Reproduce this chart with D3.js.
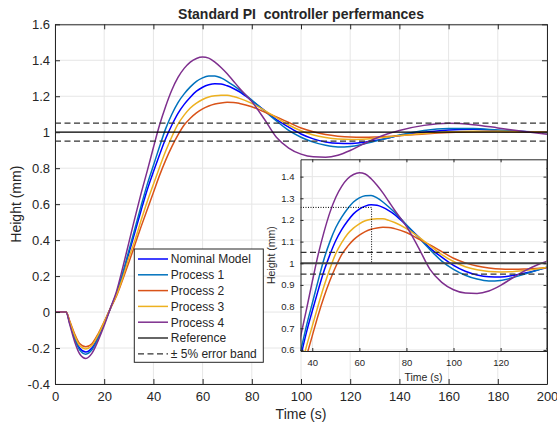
<!DOCTYPE html>
<html>
<head>
<meta charset="utf-8">
<script src="https://cdn.jsdelivr.net/npm/d3@7"></script>
<style>
  body { margin: 0; background: #fff; }
  text { font-family: "Liberation Sans", Arial, Helvetica, sans-serif; fill: #262626; }
</style>
</head>
<body>
<script>

// ---------- data ----------
var time = [0, 4.5, 6, 8, 10, 12.5, 15, 17.5, 20, 22.5,
            25, 27.5, 30, 32.5, 35, 37.5, 40, 42.5, 45, 47.5,
            50, 52.5, 55, 57.5, 60, 62.5, 65, 67.5, 70, 72.5,
            75, 80, 85, 90, 95, 100, 105, 110, 115, 120,
            125, 130, 135, 140, 150, 160, 170, 180, 190, 200];

var nominalModel = [0, 0, -0.058, -0.142, -0.2, -0.222, -0.2, -0.138, -0.062, 0.02,
                    0.1, 0.205, 0.325, 0.445, 0.565, 0.68, 0.78, 0.875, 0.965, 1.04,
                    1.105, 1.155, 1.195, 1.228, 1.25, 1.264, 1.27, 1.268, 1.258, 1.243,
                    1.225, 1.175, 1.123, 1.07, 1.028, 0.99, 0.963, 0.946, 0.938, 0.937,
                    0.943, 0.954, 0.967, 0.981, 1.0, 1.012, 1.016, 1.01, 1.004, 1.0];

var process1 = [0, 0, -0.062, -0.15, -0.21, -0.234, -0.21, -0.145, -0.065, 0.02,
                0.105, 0.215, 0.34, 0.465, 0.59, 0.71, 0.815, 0.92, 1.02, 1.1,
                1.165, 1.213, 1.252, 1.283, 1.302, 1.312, 1.313, 1.302, 1.283, 1.26,
                1.235, 1.178, 1.12, 1.063, 1.01, 0.972, 0.945, 0.927, 0.918, 0.921,
                0.933, 0.949, 0.966, 0.984, 1.01, 1.02, 1.02, 1.012, 1.004, 0.999];

var process2 = [0, 0, -0.05, -0.122, -0.175, -0.193, -0.176, -0.122, -0.053, 0.02,
                0.09, 0.18, 0.275, 0.375, 0.475, 0.57, 0.665, 0.76, 0.845, 0.92,
                0.985, 1.04, 1.078, 1.108, 1.13, 1.146, 1.157, 1.163, 1.166, 1.165,
                1.16, 1.142, 1.113, 1.085, 1.054, 1.023, 1.002, 0.987, 0.978, 0.973,
                0.972, 0.973, 0.976, 0.98, 0.99, 0.998, 1.003, 1.004, 1.002, 1.0];

var process3 = [0, 0, -0.054, -0.13, -0.186, -0.205, -0.186, -0.128, -0.057, 0.02,
                0.095, 0.19, 0.3, 0.4, 0.51, 0.615, 0.71, 0.805, 0.895, 0.975,
                1.045, 1.095, 1.135, 1.162, 1.182, 1.196, 1.203, 1.206, 1.205, 1.198,
                1.188, 1.16, 1.123, 1.081, 1.04, 1.008, 0.984, 0.97, 0.962, 0.96,
                0.961, 0.966, 0.973, 0.981, 0.993, 1.002, 1.006, 1.005, 1.002, 1.0];

var process4 = [0, 0, -0.07, -0.165, -0.232, -0.258, -0.23, -0.16, -0.075, 0.02,
                0.115, 0.245, 0.385, 0.525, 0.66, 0.785, 0.915, 1.04, 1.145, 1.235,
                1.305, 1.355, 1.39, 1.41, 1.418, 1.412, 1.39, 1.36, 1.325, 1.285,
                1.245, 1.17, 1.075, 0.972, 0.912, 0.878, 0.863, 0.861, 0.872, 0.898,
                0.932, 0.964, 0.99, 1.01, 1.038, 1.05, 1.042, 1.024, 1.005, 0.988];

var seriesNames = ["Nominal Model", "Process 1", "Process 2", "Process 3", "Process 4"];
var seriesValues = [nominalModel, process1, process2, process3, process4];

var referenceHeight = 1;
var errorBand = 0.05;

// overshoot marker shown in the zoomed view
var peakTime = 65.2;
var peakHeight = 1.258;

var mainXTicks = [0, 20, 40, 60, 80, 100, 120, 140, 160, 180, 200];
var mainYTicks = [-0.4, -0.2, 0, 0.2, 0.4, 0.6, 0.8, 1, 1.2, 1.4, 1.6];
var zoomXTicks = [40, 60, 80, 100, 120];
var zoomYTicks = [0.6, 0.7, 0.8, 0.9, 1, 1.1, 1.2, 1.3, 1.4];

var legendLabels = ["Nominal Model", "Process 1", "Process 2", "Process 3", "Process 4",
                    "Reference", "\u00b1 5% error band"];

// ---------- settings ----------
var colors = ["#0000ff", "#0072bd", "#d95319", "#edb120", "#7e2f8e"];
var axisColor = "#262626";
var gridColor = "#e6e6e6";

var mainPlot = { left: 55, right: 547, top: 24.3, bottom: 384,
                 xDomain: [0, 200], yDomain: [-0.4, 1.6],
                 tick: 5, fontSize: 13, labelSize: 14 };
var zoomPlot = { left: 300.5, right: 546.5, top: 159.3, bottom: 351,
                 xDomain: [35, 139.5], yDomain: [0.595, 1.48],
                 tick: 3, fontSize: 9.5, labelSize: 10.5 };

var svg = d3.select("body").append("svg")
  .attr("width", 557)
  .attr("height", 425);

svg.append("rect").attr("width", 557).attr("height", 425).attr("fill", "#fff");

function makeScales(p) {
  p.x = d3.scaleLinear().domain(p.xDomain).range([p.left, p.right]);
  p.y = d3.scaleLinear().domain(p.yDomain).range([p.bottom, p.top]);
}

function drawFrame(g, p, xTicks, yTicks) {
  // background + grid
  g.append("rect")
    .attr("x", p.left).attr("y", p.top)
    .attr("width", p.right - p.left).attr("height", p.bottom - p.top)
    .attr("fill", "#fff");

  g.append("g").selectAll("line").data(xTicks).join("line")
    .attr("x1", d => p.x(d)).attr("x2", d => p.x(d))
    .attr("y1", p.top).attr("y2", p.bottom)
    .attr("stroke", gridColor).attr("stroke-width", 1);

  g.append("g").selectAll("line").data(yTicks).join("line")
    .attr("x1", p.left).attr("x2", p.right)
    .attr("y1", d => p.y(d)).attr("y2", d => p.y(d))
    .attr("stroke", gridColor).attr("stroke-width", 1);
}

function drawAxes(g, p, xTicks, yTicks, xPad, yPad) {
  var bottom = g.append("g")
    .attr("transform", "translate(0," + p.bottom + ")")
    .call(d3.axisBottom(p.x).tickValues(xTicks).tickSizeInner(-p.tick).tickSizeOuter(0)
      .tickPadding(xPad).tickFormat(d3.format("")));
  var left = g.append("g")
    .attr("transform", "translate(" + p.left + ",0)")
    .call(d3.axisLeft(p.y).tickValues(yTicks).tickSizeInner(-p.tick).tickSizeOuter(0)
      .tickPadding(yPad).tickFormat(d => String(+d.toFixed(2))));
  var top = g.append("g")
    .attr("transform", "translate(0," + p.top + ")")
    .call(d3.axisTop(p.x).tickValues(xTicks).tickSizeInner(-p.tick).tickSizeOuter(0).tickFormat(""));
  var right = g.append("g")
    .attr("transform", "translate(" + p.right + ",0)")
    .call(d3.axisRight(p.y).tickValues(yTicks).tickSizeInner(-p.tick).tickSizeOuter(0).tickFormat(""));

  [bottom, left, top, right].forEach(function (a) {
    a.selectAll("path, line").attr("stroke", axisColor).attr("stroke-width", 1);
    a.selectAll("text").attr("fill", axisColor)
      .style("font-size", p.fontSize + "px")
      .style("font-family", '"Liberation Sans", Arial, sans-serif');
  });
}

function drawCurves(g, p, clipId) {
  g.append("clipPath").attr("id", clipId).append("rect")
    .attr("x", p.left).attr("y", p.top)
    .attr("width", p.right - p.left).attr("height", p.bottom - p.top);

  var cg = g.append("g").attr("clip-path", "url(#" + clipId + ")");

  var line = d3.line()
    .x((d, i) => p.x(time[i]))
    .y(d => p.y(d))
    .curve(d3.curveMonotoneX);

  cg.selectAll("path.curve").data(seriesValues).join("path")
    .attr("class", "curve")
    .attr("d", d => line(d))
    .attr("fill", "none")
    .attr("stroke", (d, i) => colors[i])
    .attr("stroke-width", 1.5);

  return cg;
}

function drawReference(cg, p, refWidth, refColor) {
  [referenceHeight + errorBand, referenceHeight - errorBand].forEach(function (v) {
    cg.append("line")
      .attr("x1", p.left).attr("x2", p.right)
      .attr("y1", p.y(v)).attr("y2", p.y(v))
      .attr("stroke", "#333").attr("stroke-width", 1.2)
      .attr("stroke-dasharray", "6,3.5");
  });
  cg.append("line")
    .attr("x1", p.left).attr("x2", p.right)
    .attr("y1", p.y(referenceHeight)).attr("y2", p.y(referenceHeight))
    .attr("stroke", refColor).attr("stroke-width", refWidth);
}

// ---------- main plot ----------
makeScales(mainPlot);
var gMain = svg.append("g");
drawFrame(gMain, mainPlot, mainXTicks, mainYTicks);
var cMain = drawCurves(gMain, mainPlot, "clipMain");
drawReference(cMain, mainPlot, 1.2, "#000");
drawAxes(gMain, mainPlot, mainXTicks, mainYTicks, 8, 5);

svg.append("text")
  .attr("x", (mainPlot.left + mainPlot.right) / 2).attr("y", 19.3)
  .attr("text-anchor", "middle")
  .attr("xml:space", "preserve").style("white-space", "pre")
  .style("font-size", "14px").style("font-weight", "bold").attr("fill", "#000")
  .text("Standard PI  controller perfermances");

svg.append("text")
  .attr("x", (mainPlot.left + mainPlot.right) / 2).attr("y", 419)
  .attr("text-anchor", "middle")
  .style("font-size", mainPlot.labelSize + "px")
  .text("Time (s)");

svg.append("text")
  .attr("transform", "translate(20.5," + ((mainPlot.top + mainPlot.bottom) / 2) + ") rotate(-90)")
  .attr("text-anchor", "middle")
  .style("font-size", mainPlot.labelSize + "px")
  .text("Height (mm)");

// ---------- legend ----------
var legend = { x: 134.3, y: 249, w: 129, h: 113.3, row: 15.8, first: 10 };
var lg = svg.append("g");
lg.append("rect")
  .attr("x", legend.x).attr("y", legend.y)
  .attr("width", legend.w).attr("height", legend.h)
  .attr("fill", "#fff").attr("stroke", axisColor).attr("stroke-width", 1);

var legendColors = colors.concat(["#000", "#333"]);
lg.selectAll("line").data(legendLabels).join("line")
  .attr("x1", legend.x + 3.7).attr("x2", legend.x + 33.7)
  .attr("y1", (d, i) => legend.y + legend.first + i * legend.row)
  .attr("y2", (d, i) => legend.y + legend.first + i * legend.row)
  .attr("stroke", (d, i) => legendColors[i])
  .attr("stroke-width", (d, i) => i < 5 ? 1.5 : 1.2)
  .attr("stroke-dasharray", (d, i) => i === 6 ? "6,3.5" : null);

lg.selectAll("text").data(legendLabels).join("text")
  .attr("x", legend.x + 36.5)
  .attr("y", (d, i) => legend.y + legend.first + i * legend.row)
  .attr("dy", "0.36em")
  .style("font-size", "12px").attr("fill", "#000")
  .text(d => d);

// ---------- zoomed view ----------
makeScales(zoomPlot);
var gZoom = svg.append("g");
drawFrame(gZoom, zoomPlot, zoomXTicks, zoomYTicks);
var cZoom = drawCurves(gZoom, zoomPlot, "clipZoom");
drawReference(cZoom, zoomPlot, 2, "#444");

cZoom.append("path")
  .attr("d", d3.line()([
    [zoomPlot.x(zoomPlot.xDomain[0]), zoomPlot.y(peakHeight)],
    [zoomPlot.x(peakTime), zoomPlot.y(peakHeight)],
    [zoomPlot.x(peakTime), zoomPlot.y(referenceHeight)]
  ]))
  .attr("fill", "none").attr("stroke", "#000").attr("stroke-width", 1)
  .attr("stroke-dasharray", "1,1.5");

drawAxes(gZoom, zoomPlot, zoomXTicks, zoomYTicks, 8, 6);

svg.append("text")
  .attr("x", (zoomPlot.left + zoomPlot.right) / 2).attr("y", 380.5)
  .attr("text-anchor", "middle")
  .style("font-size", zoomPlot.labelSize + "px")
  .text("Time (s)");

svg.append("text")
  .attr("transform", "translate(274.5," + ((zoomPlot.top + zoomPlot.bottom) / 2) + ") rotate(-90)")
  .attr("text-anchor", "middle")
  .style("font-size", zoomPlot.labelSize + "px")
  .text("Height (mm)");

</script>
</body>
</html>
